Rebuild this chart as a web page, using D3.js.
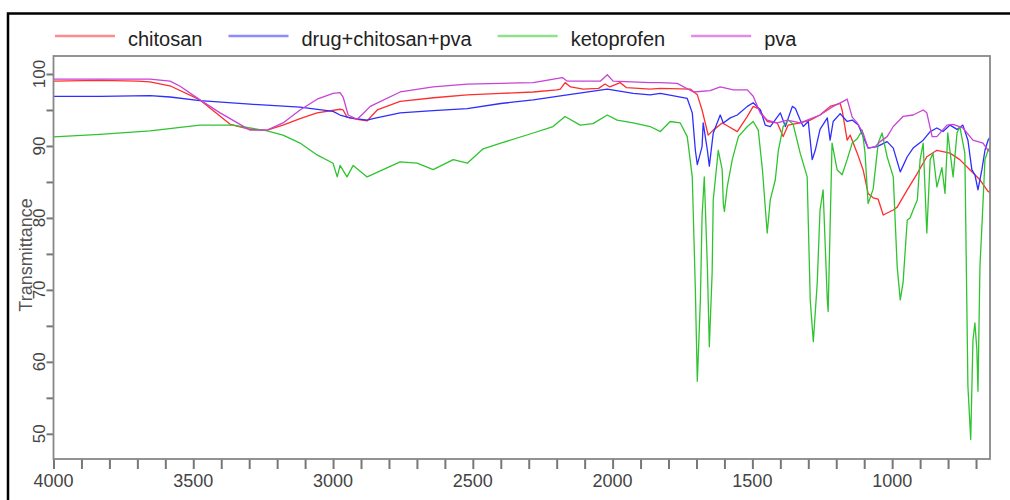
<!DOCTYPE html>
<html>
<head>
<meta charset="utf-8">
<script src="https://cdn.jsdelivr.net/npm/d3@7"></script>
<style>
  body { margin: 0; background: #fff; }
  svg { font-family: "Liberation Sans", Arial, sans-serif; }
</style>
</head>
<body>
<svg id="chart" width="1010" height="500"></svg>
<script>
// wavenumber (cm-1) / transmittance pairs
const chitosanX = [4000, 3834, 3700, 3655, 3580, 3476, 3368, 3297, 3236, 3179, 3118, 3057, 2975, 2964, 2950, 2914, 2878, 2842, 2760, 2640, 2520, 2400, 2284, 2200, 2187, 2170, 2150, 2105, 2050, 2027, 2010, 1973, 1950, 1866, 1829, 1722, 1697, 1680, 1658, 1640, 1608, 1590, 1554, 1518, 1497, 1479, 1447, 1411, 1390, 1372, 1329, 1293, 1258, 1222, 1186, 1179, 1161, 1150, 1125, 1104, 1086, 1068, 1050, 1032, 996, 982, 946, 910, 876, 840, 793, 758, 722, 686, 657, 650];
const chitosanY = [99.0, 99.1, 99.0, 98.9, 98.3, 96.4, 93.0, 92.3, 92.2, 92.9, 93.8, 94.6, 95.1, 95.0, 94.0, 93.7, 93.5, 95.0, 96.2, 96.7, 97.1, 97.3, 97.5, 97.8, 97.9, 98.8, 98.2, 97.9, 98.0, 98.6, 98.2, 98.8, 98.1, 97.9, 98.0, 97.9, 97.1, 95.0, 91.5, 92.2, 93.2, 92.8, 92.0, 94.1, 95.5, 95.2, 93.4, 93.2, 91.3, 92.9, 93.2, 93.6, 94.3, 95.5, 95.9, 95.0, 90.8, 91.5, 89.0, 86.7, 83.4, 82.8, 82.6, 80.4, 81.1, 81.5, 83.9, 86.2, 88.5, 89.4, 89.0, 88.1, 86.7, 85.3, 83.7, 83.5];

const drugX = [4000, 3834, 3655, 3583, 3476, 3297, 3118, 3000, 2975, 2939, 2878, 2857, 2760, 2642, 2520, 2400, 2284, 2162, 2019, 1926, 1866, 1829, 1733, 1715, 1704, 1697, 1680, 1676, 1661, 1654, 1640, 1615, 1604, 1579, 1554, 1518, 1497, 1471, 1454, 1436, 1400, 1382, 1357, 1346, 1329, 1318, 1300, 1286, 1275, 1258, 1232, 1222, 1211, 1186, 1161, 1143, 1121, 1104, 1086, 1054, 1018, 996, 971, 946, 925, 889, 864, 840, 818, 793, 768, 747, 729, 715, 704, 693, 679, 668, 657, 650];
const drugY = [96.9, 96.9, 97.0, 96.8, 96.3, 95.8, 95.4, 94.8, 94.3, 93.9, 93.6, 93.8, 94.6, 94.9, 95.2, 95.9, 96.4, 97.1, 97.9, 97.3, 97.1, 97.3, 96.6, 94.6, 89.4, 87.4, 89.9, 93.2, 89.4, 87.2, 91.8, 94.3, 93.2, 93.9, 94.3, 95.5, 96.0, 95.0, 92.9, 92.7, 94.6, 92.7, 95.5, 95.2, 93.6, 92.7, 93.4, 88.1, 89.4, 92.3, 93.9, 90.8, 93.4, 94.5, 93.4, 93.6, 92.9, 91.3, 89.7, 89.9, 90.6, 89.7, 86.4, 88.5, 89.7, 90.8, 92.0, 92.5, 92.0, 92.9, 92.3, 92.9, 90.8, 86.7, 86.0, 83.9, 86.7, 89.4, 90.8, 91.2];

const ketoX = [4000, 3834, 3655, 3476, 3358, 3236, 3179, 3118, 3057, 3000, 2985, 2975, 2950, 2928, 2878, 2821, 2760, 2699, 2642, 2570, 2520, 2463, 2400, 2284, 2213, 2170, 2116, 2070, 2019, 1984, 1926, 1866, 1829, 1794, 1758, 1733, 1715, 1704, 1697, 1686, 1680, 1672, 1661, 1654, 1644, 1640, 1622, 1608, 1604, 1600, 1590, 1572, 1550, 1518, 1497, 1479, 1464, 1447, 1436, 1418, 1407, 1390, 1372, 1354, 1329, 1304, 1293, 1282, 1268, 1258, 1247, 1232, 1229, 1215, 1197, 1179, 1161, 1143, 1125, 1107, 1097, 1086, 1068, 1050, 1036, 1018, 996, 982, 971, 961, 946, 936, 925, 910, 900, 889, 876, 864, 854, 840, 822, 811, 801, 782, 768, 758, 740, 729, 719, 711, 704, 697, 693, 686, 679, 668, 657, 650];
const ketoY = [91.25, 91.6, 92.1, 92.9, 92.9, 92.1, 91.5, 90.4, 88.75, 87.6, 85.7, 87.3, 85.7, 87.3, 85.7, 86.7, 87.8, 87.6, 86.7, 88.1, 87.6, 89.6, 90.4, 91.8, 92.7, 94.1, 92.9, 93.1, 94.3, 93.6, 93.2, 92.7, 92.0, 93.4, 93.2, 91.3, 85.7, 70.0, 57.3, 68.6, 80.2, 85.7, 73.2, 62.1, 72.3, 82.5, 89.4, 86.7, 82.0, 80.9, 84.3, 88.1, 91.3, 92.7, 93.4, 92.2, 86.7, 77.9, 82.5, 85.3, 89.4, 92.7, 93.6, 93.0, 89.0, 85.7, 68.6, 62.8, 71.0, 81.1, 83.9, 68.6, 67.0, 90.4, 86.7, 86.0, 88.1, 90.4, 91.0, 92.2, 89.0, 82.0, 84.0, 90.4, 91.8, 88.5, 85.7, 73.2, 68.6, 71.0, 79.7, 80.0, 81.1, 82.5, 88.1, 90.4, 77.9, 88.1, 89.0, 84.3, 87.0, 83.4, 91.8, 85.7, 91.8, 92.7, 89.0, 56.6, 49.2, 63.0, 65.4, 61.7, 55.9, 73.2, 78.8, 88.1, 89.4, 89.8];

const pvaX = [4000, 3834, 3655, 3583, 3547, 3476, 3404, 3297, 3236, 3179, 3118, 3057, 3000, 2975, 2964, 2946, 2914, 2892, 2867, 2760, 2642, 2520, 2400, 2284, 2180, 2162, 2044, 2019, 1998, 1866, 1829, 1769, 1711, 1651, 1615, 1568, 1518, 1497, 1471, 1447, 1411, 1375, 1329, 1304, 1258, 1211, 1175, 1161, 1143, 1125, 1104, 1086, 1061, 1043, 1018, 996, 961, 925, 889, 876, 857, 840, 804, 782, 747, 711, 675, 657, 650];
const pvaY = [99.3, 99.3, 99.3, 99.0, 98.3, 96.4, 94.6, 92.2, 92.2, 93.2, 95.0, 96.5, 97.3, 97.4, 96.8, 94.3, 93.7, 94.5, 95.5, 97.5, 98.2, 98.6, 98.7, 98.8, 99.5, 99.0, 99.0, 99.9, 99.0, 98.8, 98.8, 98.7, 97.5, 97.7, 98.2, 97.8, 97.8, 96.9, 94.5, 93.6, 93.2, 93.6, 93.2, 93.6, 94.3, 95.5, 96.2, 96.5, 94.0, 93.2, 91.8, 89.7, 89.9, 90.6, 91.3, 92.7, 94.1, 94.3, 95.0, 94.6, 91.3, 91.3, 92.9, 93.0, 92.5, 90.8, 90.4, 89.4, 89.2];

const seriesNames = ['chitosan', 'drug+chitosan+pva', 'ketoprofen', 'pva'];
const seriesColors = ['#ff2e2e', '#2e2eff', '#2fc42f', '#c843d6'];
const legendColors = ['#ff8c8c', '#8c8cff', '#8fe08f', '#e28ce8'];

const xTicks = d3.range(4000, 699, -100);
const xLabels = [4000, 3500, 3000, 2500, 2000, 1500, 1000];
const yTicks = d3.range(50, 101, 5);
const yLabels = [50, 60, 70, 80, 90, 100];

const series = [
  chitosanX.map((w, i) => [w, chitosanY[i]]),
  drugX.map((w, i) => [w, drugY[i]]),
  ketoX.map((w, i) => [w, ketoY[i]]),
  pvaX.map((w, i) => [w, pvaY[i]])
];

const svg = d3.select('#chart');
const plotLeft = 53.5, plotRight = 990, plotTop = 56, plotBottom = 459;

const x = d3.scaleLinear().domain([4000, 650]).range([plotLeft, plotRight]);
const y = d3.scaleLinear().domain([46.5, 102.5]).range([plotBottom, plotTop]);

// outer black frame
svg.append('rect')
  .attr('x', 8).attr('y', 13.5)
  .attr('width', 1020).attr('height', 520)
  .attr('fill', 'none').attr('stroke', '#000').attr('stroke-width', 2.5);

// legend
let lx = 55;
seriesNames.forEach((name, i) => {
  svg.append('line')
    .attr('x1', lx).attr('x2', lx + 60)
    .attr('y1', 36).attr('y2', 36)
    .attr('stroke', legendColors[i]).attr('stroke-width', 2.5);
  const t = svg.append('text')
    .attr('x', lx + 73).attr('y', 46)
    .attr('font-size', 20).attr('fill', '#222')
    .text(name);
  lx = lx + 73 + t.node().getComputedTextLength() + 26;
});

svg.append('defs').append('clipPath').attr('id', 'plotclip')
  .append('rect').attr('x', plotLeft).attr('y', plotTop)
  .attr('width', plotRight - plotLeft).attr('height', plotBottom - plotTop);

// x axis
const xAxis = svg.append('g')
  .attr('transform', `translate(0, ${plotBottom})`)
  .call(d3.axisBottom(x).tickValues(xTicks).tickSize(10).tickFormat(''));
xAxis.select('.domain').remove();
xAxis.selectAll('.tick line').attr('stroke', '#777').attr('stroke-width', 2);

svg.append('g').selectAll('text')
  .data(xLabels)
  .enter().append('text')
  .attr('x', d => x(d))
  .attr('y', 487)
  .attr('text-anchor', 'middle')
  .attr('font-size', 18)
  .attr('fill', '#444')
  .text(d => d);

// y axis
const yAxis = svg.append('g')
  .attr('transform', `translate(${plotLeft}, 0)`)
  .call(d3.axisLeft(y).tickValues(yTicks).tickSize(7).tickFormat(''));
yAxis.select('.domain').remove();
yAxis.selectAll('.tick line').attr('stroke', '#777').attr('stroke-width', 2);

svg.append('g').selectAll('text')
  .data(yLabels)
  .enter().append('text')
  .attr('transform', d => `translate(45, ${y(d)}) rotate(-90)`)
  .attr('text-anchor', 'middle')
  .attr('font-size', 17)
  .attr('fill', '#444')
  .text(d => d);

svg.append('text')
  .attr('transform', 'translate(32, 255) rotate(-90)')
  .attr('text-anchor', 'middle')
  .attr('font-size', 18)
  .attr('fill', '#555')
  .text('Transmittance');

// spectra
const line = d3.line()
  .x(d => x(d[0]))
  .y(d => y(d[1]));

svg.append('g')
  .attr('clip-path', 'url(#plotclip)')
  .selectAll('path')
  .data(series)
  .enter().append('path')
  .attr('d', line)
  .attr('fill', 'none')
  .attr('stroke', (d, i) => seriesColors[i])
  .attr('stroke-width', 1.3)
  .attr('stroke-linejoin', 'round');

// plot frame
svg.append('rect')
  .attr('x', plotLeft).attr('y', plotTop)
  .attr('width', plotRight - plotLeft).attr('height', plotBottom - plotTop)
  .attr('fill', 'none').attr('stroke', '#888').attr('stroke-width', 1.8);
</script>
</body>
</html>
